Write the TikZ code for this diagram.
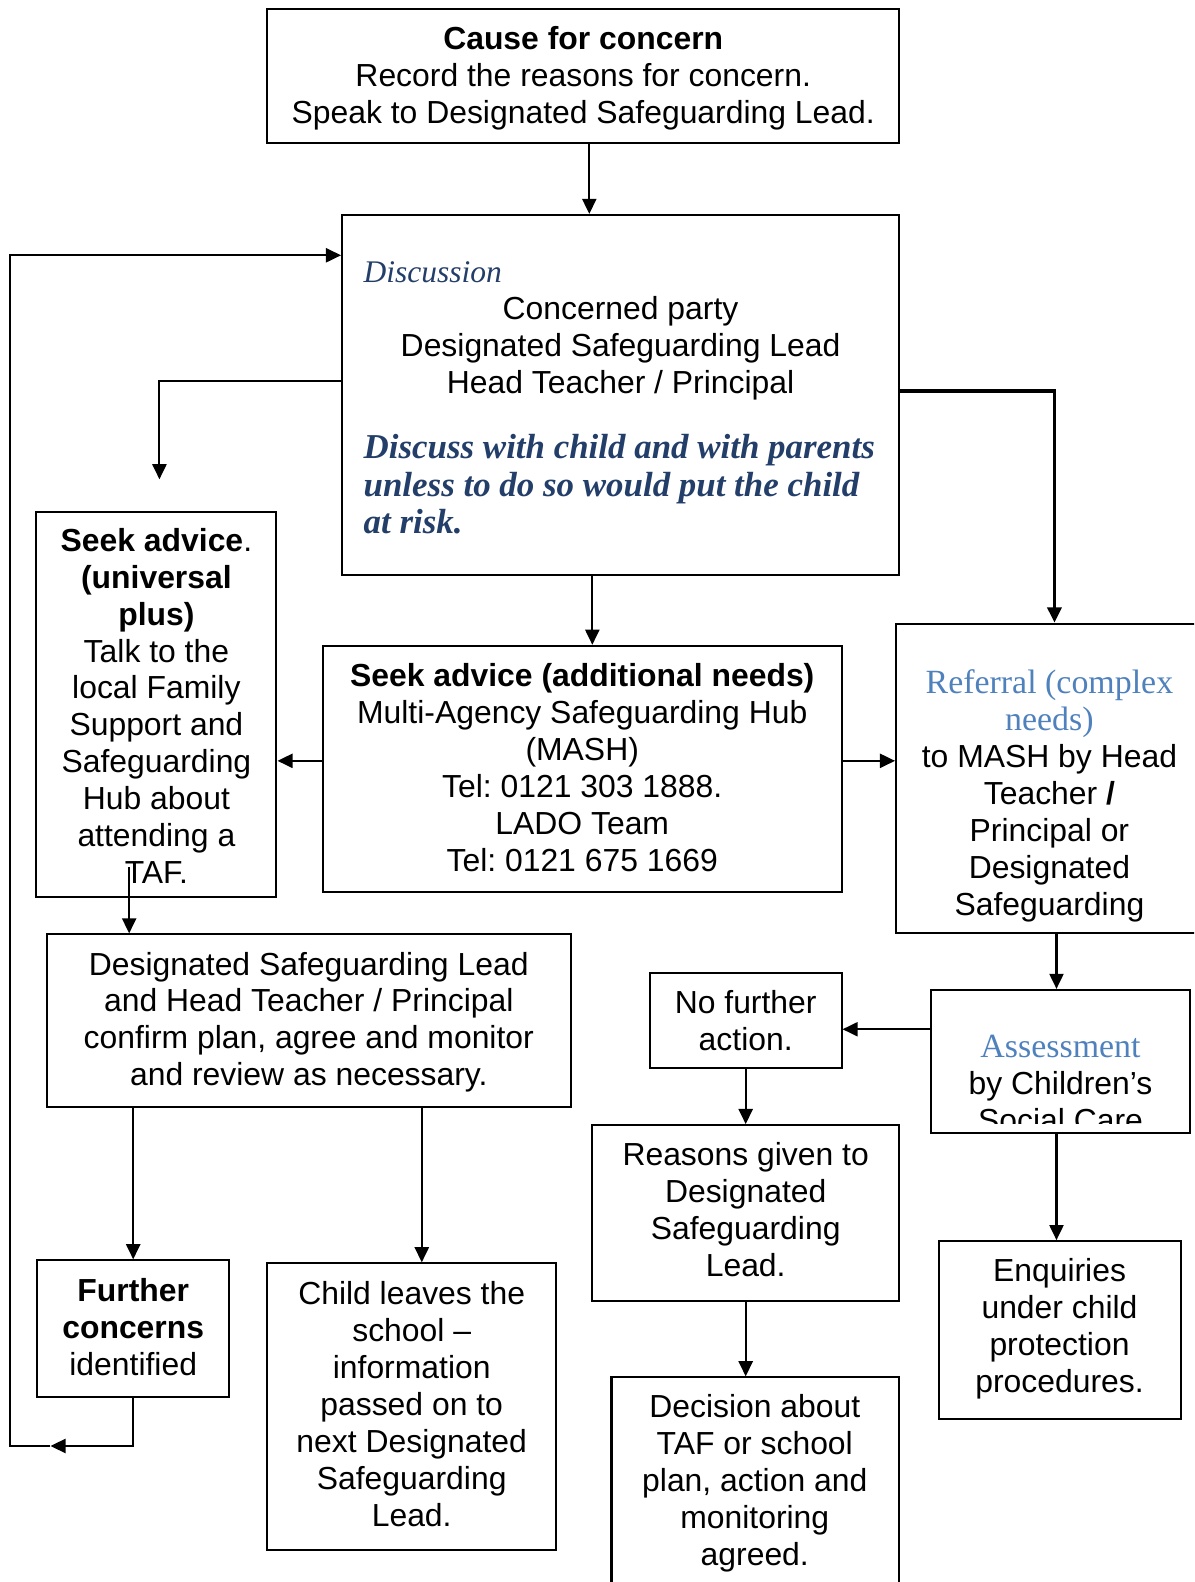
\documentclass[tikz,border=0pt]{standalone}
\usepackage{fontspec}
\setmainfont{Liberation Sans}
\newfontfamily\bluefont{Liberation Serif}
\usetikzlibrary{arrows.meta}
\frenchspacing
\definecolor{darkblue}{RGB}{35,62,105}
\definecolor{lightblue}{RGB}{79,129,189}
\tikzset{
  flowbox/.style={draw, line width=1pt, inner sep=0pt},
  boxtext/.style={align=center, inner sep=0pt, font=\fontsize{15.8pt}{18.3pt}\selectfont},
  arr/.style={-{Triangle[length=7.5pt,width=7pt]}, line width=1pt},
}
\newcommand{\bluetitle}[1]{{\bluefont\fontsize{16.8pt}{18.3pt}\selectfont\color{lightblue}#1}}
\begin{document}
\begin{tikzpicture}[x=0.5pt, y=-0.5pt]
            \useasboundingbox (0,0) rectangle (1183.3,1567.8);
            \clip (0,0) rectangle (1183.3,1567.8);

            % Draw the boxes
            \node[flowbox, minimum width=313pt, minimum height=66.5pt] (cause) at (578,75.5) {};
            \node[flowbox, minimum width=276pt, minimum height=178.5pt] (disc) at (615,391.5) {};
            \node[flowbox, minimum width=119pt, minimum height=191pt] (seekup) at (155,698) {};
            \node[flowbox, minimum width=257pt, minimum height=122pt] (mash) at (577,762) {};
            \node[flowbox, minimum width=157pt, minimum height=153.5pt] (referral) at (1045,771.5) {};
            \node[flowbox, minimum width=128pt, minimum height=71pt] (assess) at (1051,1052) {};
            \node[flowbox, minimum width=95pt, minimum height=47pt] (nofurther) at (739,1011) {};
            \node[flowbox, minimum width=152pt, minimum height=87pt] (reasons) at (739,1202) {};
            \node[flowbox, minimum width=142.5pt, minimum height=127.5pt] (decision) at (748.5,1492.5) {};
            \node[flowbox, minimum width=119.5pt, minimum height=88pt] (enquiries) at (1050.5,1318) {};
            \node[flowbox, minimum width=259.5pt, minimum height=85.5pt] (confirm) at (306.5,1011.5) {};
            \node[flowbox, minimum width=95pt, minimum height=67.5pt] (further) at (132,1316.5) {};
            \node[flowbox, minimum width=143pt, minimum height=142pt] (leaves) at (408,1394) {};

            % Draw the texts in the boxes
            \node[boxtext] (causetext) at (578,77.5) {\textbf{Cause for concern}\\Record the reasons for concern.\\Speak to Designated Safeguarding Lead.};
            \node[anchor=west, inner sep=0pt, text=darkblue, font=\bluefont\itshape\fontsize{15.6pt}{18.5pt}\selectfont] (disctitle) at (360,270) {Discussion};
            \node[boxtext] (disctext) at (615,345) {Concerned party\\Designated Safeguarding Lead\\Head Teacher / Principal};
            \node[anchor=west, align=left, inner sep=0pt, text=darkblue, font=\bluefont\bfseries\itshape\fontsize{17.3pt}{18.5pt}\selectfont] (discnote) at (360,480) {Discuss with child and with parents\\unless to do so would put the child\\at risk.};
            \node[boxtext] (seekuptext) at (155,699.5) {\textbf{Seek advice}.\\\textbf{(universal}\\\textbf{plus)}\\Talk to the\\local Family\\Support and\\Safeguarding\\Hub about\\attending a\\TAF.};
            \node[boxtext] (mashtext) at (577,760.5) {\textbf{Seek advice (additional needs)}\\Multi-Agency Safeguarding Hub\\(MASH)\\Tel: 0121 303 1888.\\LADO Team\\Tel: 0121 675 1669};
            \node[boxtext] (referraltext) at (1040,788.5) {\bluetitle{Referral (complex}\\\bluetitle{needs)}\\to MASH by Head\\Teacher \textbf{/}\\Principal or\\Designated\\Safeguarding};
            \begin{scope}
              \clip (925,983) rectangle (1177,1113);
              \node[boxtext] (assesstext) at (1051,1074) {\bluetitle{Assessment}\\by Children’s\\Social Care};
            \end{scope}
            \node[boxtext] (nofurthertext) at (739,1011.5) {No further\\action.};
            \node[boxtext] (reasonstext) at (739,1199) {Reasons given to\\Designated\\Safeguarding\\Lead.};
            \node[boxtext] (decisiontext) at (748,1470) {Decision about\\TAF or school\\plan, action and\\monitoring\\agreed.};
            \node[boxtext] (enquiriestext) at (1050,1317) {Enquiries\\under child\\protection\\procedures.};
            \node[boxtext] (confirmtext) at (306,1013) {Designated Safeguarding Lead\\and Head Teacher / Principal\\confirm plan, agree and monitor\\and review as necessary.};
            \node[boxtext] (furthertext) at (132,1315) {\textbf{Further}\\\textbf{concerns}\\identified};
            \node[boxtext] (leavestext) at (408,1391.5) {Child leaves the\\school –\\information\\passed on to\\next Designated\\Safeguarding\\Lead.};

            % Draw the free ends of the connectors
            \coordinate (seekin) at (158,475);
            \coordinate (loopin) at (50,1433);
            \coordinate (loopcorner) at (10,1433);

            % Draw the connectors
            \draw[arr] ([xshift=3pt]cause.south) -- ([xshift=3pt]cause.south |- disc.north);
            \draw[arr] ([xshift=-14pt]disc.south) -- ([xshift=-14pt]disc.south |- mash.north);
            \draw[arr] ([yshift=7pt]disc.west) -| (seekin);
            \draw[arr, line width=1.5pt] ([yshift=2pt]disc.east) -| (referral.north);
            \draw[arr] ([yshift=4pt]mash.west) -- ([yshift=4pt]mash.west -| seekup.east);
            \draw[arr] ([yshift=4pt]mash.east) -- ([yshift=4pt]mash.east -| referral.west);
            \draw[arr] ([xshift=1pt]referral.south) -- ([xshift=1pt]referral.south |- assess.north);
            \draw[arr] ([yshift=16pt]assess.west) -- ([yshift=16pt]assess.west -| nofurther.east);
            \draw[arr] (nofurther.south) -- (reasons.north);
            \draw[arr] (reasons.south) -- (reasons.south |- decision.north);
            \draw[arr] ([xshift=-2pt]assess.south) -- ([xshift=-2pt]assess.south |- enquiries.north);
            \draw[arr] ([shift={(-13.5pt,15.5pt)}]seekup.south) -- ([xshift=-13.5pt]seekup.south |- confirm.north);
            \draw[arr] (confirm.south -| further.north) -- (further.north);
            \draw[arr] ([xshift=55.75pt]confirm.south) -- ([xshift=55.75pt]confirm.south |- leaves.north);
            \draw[arr] (further.south) |- (loopin);
            \draw[arr] (loopin) -- (loopcorner) |- ([yshift=69.25pt]disc.west);

\end{tikzpicture}
\end{document}
